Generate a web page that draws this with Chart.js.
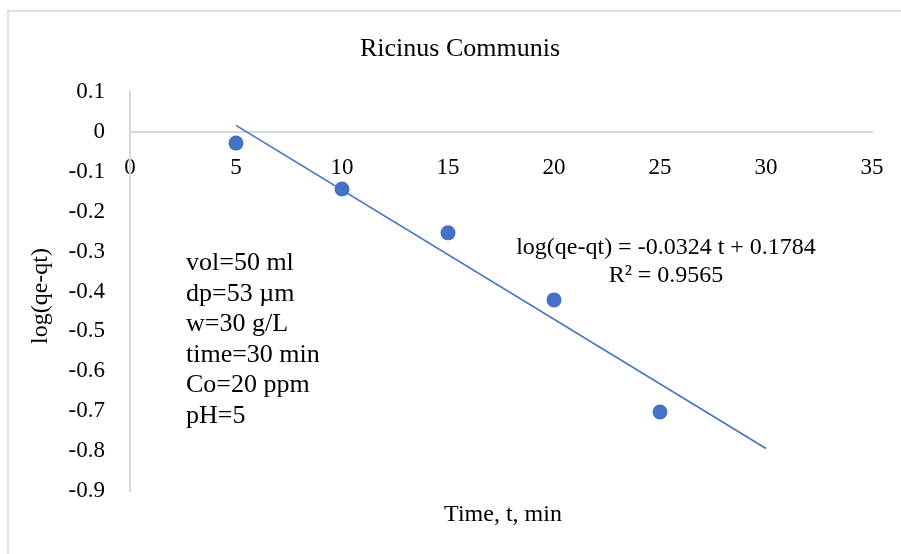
<!DOCTYPE html>
<html>
<head>
<meta charset="utf-8">
<script src="https://cdn.jsdelivr.net/npm/chart.js"></script>
<style>
  body { margin: 0; overflow: hidden; background: #fff; }
  #frame { position: absolute; left: 7px; top: 10px; width: 1000px; height: 700px; border: 2px solid #dde0e8; }
  #chart-wrapper { position: absolute; left: 0; top: 0; width: 901px; height: 554px; }
</style>
</head>
<body>
<div id="frame"></div>
<div id="chart-wrapper">
  <canvas id="my-chart" width="901" height="554"></canvas>
</div>

<script>
// data
const times = [5, 10, 15, 20, 25];
const logValues = [-0.028, -0.143, -0.253, -0.421, -0.702];

// excel linear trendline (forward forecast to 30)
const trendSlope = -0.0324;
const trendIntercept = 0.1784;
const trendTimes = [5, 30];

const titleText = 'Ricinus Communis';
const xTitle = 'Time, t, min';
const yTitle = 'log(qe-qt)';
const equationLines = ['log(qe-qt) = -0.0324 t + 0.1784', 'R² = 0.9565'];
const notes = ['vol=50 ml', 'dp=53 µm', 'w=30 g/L', 'time=30 min', 'Co=20 ppm', 'pH=5'];

const serif = '"Liberation Serif", "Times New Roman", serif';
const blue = '#4472C4';
const axisColor = '#d3d7e1';

const ctx = document.getElementById('my-chart');

var trendData = trendTimes.map(function(t) {
  return { x: t, y: trendSlope * t + trendIntercept };
});
var pointData = times.map(function(t, i) {
  return { x: t, y: logValues[i] };
});

const textPlugin = {
  id: 'texts',
  afterDraw: function(chart) {
    const c = chart.ctx;
    c.save();
    c.fillStyle = '#000';
    c.textBaseline = 'alphabetic';

    c.font = '26px ' + serif;
    c.textAlign = 'center';
    c.fillText(titleText, 460, 56);

    c.font = '24px ' + serif;
    c.fillText(xTitle, 503, 521);

    c.fillText(equationLines[0], 666, 254);
    c.fillText(equationLines[1], 666, 282);

    c.font = '26px ' + serif;
    c.textAlign = 'left';
    for (var i in notes) {
      c.fillText(notes[i], 186, 270 + i * 30.5);
    }

    c.font = '24px ' + serif;
    c.translate(47, 296);
    c.rotate(-Math.PI / 2);
    c.textAlign = 'center';
    c.fillText(yTitle, 0, 0);
    c.restore();
  }
};

const chart = new Chart(ctx, {
  type: 'scatter',
  data: {
    datasets: [
      {
        label: 'trend',
        type: 'line',
        data: trendData,
        borderColor: blue,
        borderWidth: 1.6,
        pointRadius: 0,
        fill: false
      },
      {
        label: 'log(qe-qt)',
        data: pointData,
        backgroundColor: blue,
        borderColor: blue,
        pointRadius: 7.5,
        pointBorderWidth: 0
      }
    ]
  },
  options: {
    responsive: false,
    animation: false,
    devicePixelRatio: 1,
    layout: { padding: { left: 0, right: 29, top: 92, bottom: 63 } },
    plugins: {
      legend: { display: false },
      title: { display: false },
      tooltip: { enabled: false }
    },
    scales: {
      x: {
        type: 'linear',
        position: { y: 0 },
        min: 0,
        max: 35,
        grid: { display: false, drawTicks: false },
        border: { display: true, color: axisColor, width: 2 },
        ticks: {
          stepSize: 5,
          padding: 22,
          color: '#000',
          maxRotation: 0,
          font: { family: serif, size: 23 }
        },
        afterFit: function(scale) {
          scale.paddingLeft = 0;
          scale.paddingRight = 0;
        }
      },
      y: {
        type: 'linear',
        position: 'left',
        min: -0.9,
        max: 0.1,
        grid: { display: false, drawTicks: false },
        border: { display: true, color: axisColor, width: 2 },
        ticks: {
          stepSize: 0.1,
          padding: 25,
          color: '#000',
          font: { family: serif, size: 23 }
        },
        afterFit: function(scale) { scale.width = 130; }
      }
    }
  },
  plugins: [textPlugin]
});
</script>
</body>
</html>
